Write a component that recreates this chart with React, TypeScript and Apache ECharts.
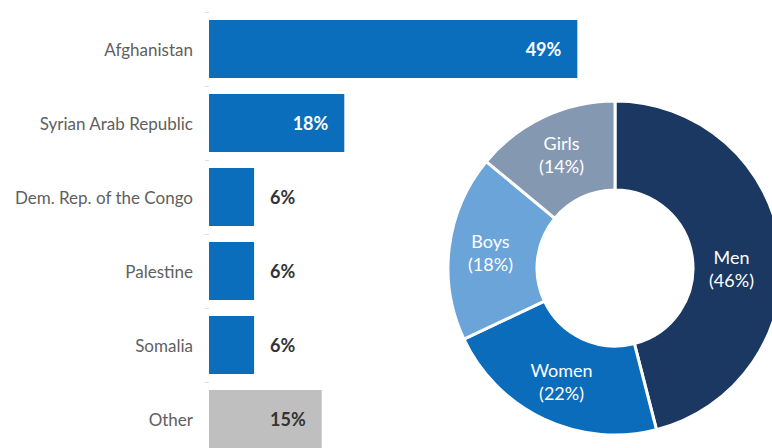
import React, { useEffect, useRef } from "react";
import * as echarts from "echarts";

const countries = ["Afghanistan", "Syrian Arab Republic", "Dem. Rep. of the Congo", "Palestine", "Somalia", "Other"];
const countryShares = [49, 18, 6, 6, 6, 15];
const groups = ["Men", "Women", "Boys", "Girls"];
const groupShares = [46, 22, 18, 14];
const groupColors = ["#1b3862", "#0b6cbc", "#6ba4d8", "#8598b1"];

export default function App() {
  const ref = useRef<HTMLDivElement>(null);
  useEffect(() => {
    document.body.style.margin = "0";
    const chart = echarts.init(ref.current!, null, { renderer: "svg" });
    const barData = countryShares.map((v, i) => {
      const isOther = countries[i] === "Other";
      const inside = v >= 10;
      return {
        value: v,
        itemStyle: { color: isOther ? "#bfbfbf" : "#0a6ebd" },
        label: {
          show: true,
          position: inside ? "insideRight" : "right",
          distance: 16,
          color: inside && !isOther ? "#ffffff" : "#333333",
          fontFamily: "Lato",
          fontWeight: "bold",
          fontSize: 18,
          formatter: "{c}%",
        },
      };
    });
    chart.setOption({
      animation: false,
      grid: { left: 209, top: 12, width: 451, height: 444, containLabel: false, outerBoundsMode: "none" },
      xAxis: { type: "value", min: 0, max: 60, show: false },
      yAxis: {
        type: "category",
        data: countries,
        inverse: true,
        axisLine: { show: false },
        axisTick: { show: true, length: 4, lineStyle: { color: "#f3d9c2" } },
        axisLabel: { color: "#606060", fontFamily: "Lato", fontSize: 17, margin: 16 },
        splitLine: { show: false },
      },
      series: [
        {
          type: "bar",
          data: barData,
          barWidth: 58,
        },
        {
          type: "pie",
          center: [615, 268],
          radius: [78, 167],
          startAngle: 90,
          clockwise: true,
          itemStyle: { borderColor: "#ffffff", borderWidth: 3 },
          label: {
            show: true,
            position: "inside",
            color: "#ffffff",
            fontFamily: "Lato",
            fontSize: 18,
            lineHeight: 23,
            formatter: (p: any) => `${p.name}\n(${p.value}%)`,
          },
          labelLine: { show: false },
          data: groups.map((g, i) => ({
            name: g,
            value: groupShares[i],
            itemStyle: { color: groupColors[i] },
            label: g === "Men" ? { offset: [-8, 16] } : undefined,
          })),
        },
      ],
    });
    return () => chart.dispose();
  }, []);
  return <div ref={ref} style={{ width: 772, height: 448 }} />;
}
